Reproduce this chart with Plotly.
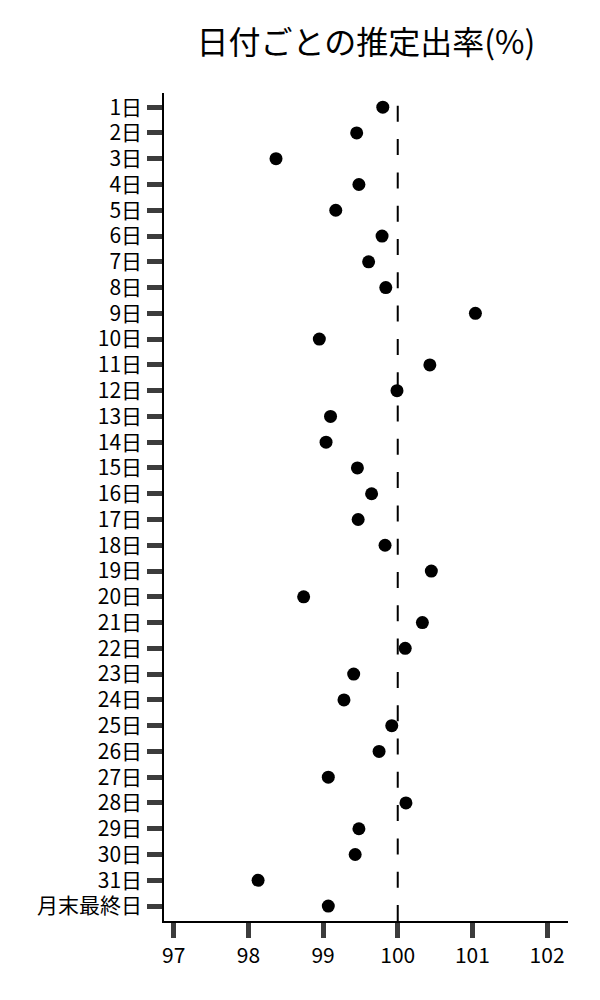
"""日付ごとの推定出率 dot plot"""

import plotly.graph_objects as go

days = [f"{i}日" for i in range(1, 32)] + ["月末最終日"]
rates = [
    99.80, 99.45, 98.37, 99.48, 99.17, 99.79, 99.61, 99.84, 101.04, 98.95,
    100.43, 99.99, 99.10, 99.04, 99.46, 99.65, 99.47, 99.83, 100.45, 98.74,
    100.33, 100.10, 99.41, 99.28, 99.92, 99.75, 99.07, 100.11, 99.48, 99.43,
    98.13, 99.07,
]
x_ticks = [97, 98, 99, 100, 101, 102]
ref_value = 100

FONT = "Noto Sans CJK JP"
TICK_COLOR = "#3c3c3c"

fig = go.Figure()
fig.add_trace(go.Scatter(
    x=rates,
    y=days,
    mode="markers",
    marker=dict(color="black", size=13),
    showlegend=False,
))

# dashed reference line at 100, drawn bottom->top so the dash starts at the axis
fig.add_shape(
    type="line",
    xref="x", yref="paper",
    x0=ref_value, x1=ref_value, y0=0, y1=1,
    line=dict(color="black", width=2, dash="16px,17.3px"),
    layer="below",
)

# page body has an 8px margin, so the figure is a bit smaller than the window
fig.update_layout(
    width=592,
    height=992,
    margin=dict(l=156, r=32, t=85, b=79),
    paper_bgcolor="white",
    plot_bgcolor="white",
    font=dict(family=FONT, color="black", size=22),
    title=dict(
        text="日付ごとの推定出率(%)",
        font=dict(family=FONT, size=32, color="black"),
        x=0.5, xref="paper", xanchor="center",
        y=0.965, yref="container", yanchor="middle",
    ),
)
fig.update_xaxes(
    range=[96.87, 102.28],
    tickvals=x_ticks,
    ticktext=[str(v) for v in x_ticks],
    showgrid=False,
    zeroline=False,
    showline=True, linecolor="black", linewidth=1.5,
    ticks="outside", ticklen=15, tickwidth=5, tickcolor=TICK_COLOR,
    ticklabelstandoff=0,
    tickfont=dict(size=21, family=FONT, color="black"),
)
fig.update_yaxes(
    type="category",
    categoryorder="array",
    categoryarray=days,
    range=[31.58, -0.55],
    showgrid=False,
    zeroline=False,
    showline=True, linecolor="black", linewidth=1.5,
    ticks="outside", ticklen=15, tickwidth=5, tickcolor=TICK_COLOR,
    ticklabelstandoff=1,
    tickfont=dict(size=21, family=FONT, color="black"),
)

fig.write_html("out.html")
